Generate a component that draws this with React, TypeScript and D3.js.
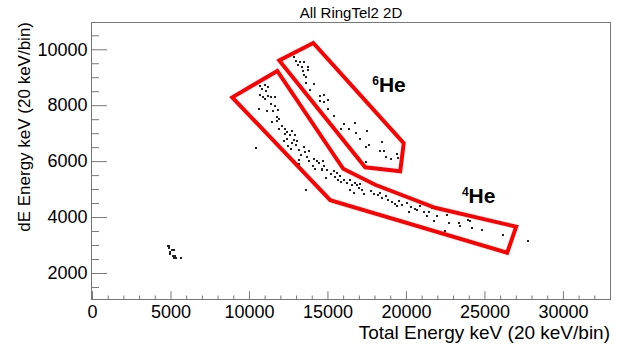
import { useEffect, useRef } from 'react';
import { axisBottom, axisLeft, format, line, range, scaleLinear, select } from 'd3';

type Pt = [number, number];

// axis ticks
const xTicks = [0, 5000, 10000, 15000, 20000, 25000, 30000];
const yTicks = [2000, 4000, 6000, 8000, 10000];

// graphical cuts (keV total, keV dE)
const he6Cut: Pt[] = [
  [14095, 10225], [11929, 9600], [17406, 5779], [19636, 5636], [19859, 6643],
];
const he4Cut: Pt[] = [
  [11802, 9225], [8936, 8279], [15177, 4601], [26450, 2726], [27024, 3654],
  [21865, 4333], [18043, 5154], [16005, 5726],
];

// events in the 6He band
const he6Events: Pt[] = [
  [12885, 9736], [13012, 9593], [13267, 9547], [13521, 9547], [13095, 9450], [13349, 9357],
  [13731, 9379], [13439, 9215], [13776, 9261], [13477, 9093], [13604, 9022], [13649, 8807],
  [14158, 8761], [13859, 8547], [14496, 8332], [14795, 8357], [15005, 8190], [14540, 8143],
  [14795, 8118], [15005, 7879], [15387, 7618], [16024, 7333], [16368, 7143], [15859, 7143],
  [16750, 7379], [16833, 7000], [17088, 6808], [17515, 7072], [17642, 6593], [17426, 6522],
  [18445, 6690], [18317, 6379], [18617, 6379], [18744, 6165], [19043, 6072], [19425, 6261],
  [19464, 6118], [17470, 5951],
];

// events in the 4He band
const he4Events: Pt[] = [
  [10700, 8690], [10993, 8736], [11209, 8665], [10827, 8572], [11082, 8522], [10700, 8379],
  [10865, 8307], [11209, 8332], [11375, 8286], [11037, 8236], [11630, 8286], [11420, 8047],
  [10611, 7879], [11674, 7975], [11165, 7786], [11547, 7808], [11846, 7833], [11757, 7572],
  [11885, 7522], [11802, 7450], [11464, 7404], [12101, 7261], [11885, 7143], [12311, 7143],
  [12439, 7047], [12738, 7072], [12267, 6975], [12611, 6929], [12904, 6929], [12439, 6808],
  [12865, 6761], [12228, 6715], [12738, 6665], [13076, 6715], [12483, 6547], [12993, 6572],
  [12693, 6451], [13203, 6404], [13502, 6501], [13585, 6333], [13840, 6379], [13330, 6215],
  [13668, 6143], [13158, 6047], [13795, 6022], [14139, 6093], [14305, 6001], [14477, 5929],
  [14687, 6001], [14050, 5833], [14222, 5736], [14649, 5736], [13158, 5904],
  [14751, 5833], [14668, 5665], [14967, 5690], [14923, 5404], [15222, 5522], [15387, 5644],
  [15604, 5572], [15477, 5429], [15770, 5476], [15687, 5308], [15859, 5261], [16024, 5333],
  [16241, 5215], [16407, 5308], [16579, 5144], [16750, 5215], [16878, 5144], [17088, 5165],
  [17005, 5022], [16451, 4976], [16661, 4858], [17215, 4976], [17343, 4808], [17770, 4929],
  [17980, 4833], [18190, 4786], [18362, 4858], [18489, 4665], [18699, 4737], [18871, 4594],
  [19126, 4547], [19298, 4476], [19553, 4572], [19425, 4379], [19763, 4429], [20062, 4501],
  [20317, 4358], [20190, 4190], [20572, 4287],
  [20699, 4262], [20909, 4379], [21120, 4165], [21438, 4165], [21655, 4322], [21757, 3844],
  [21973, 4022], [22610, 4083], [22712, 3787], [22502, 3487], [23349, 3787], [23457, 3690],
  [24094, 3844], [24202, 3608], [24839, 3547], [26215, 3369], [21336, 4022], [23967, 3904],
];

// low energy group and stray events
const lowCluster: Pt[] = [
  [4923, 2951], [4904, 2880], [5095, 2808], [4987, 2737], [5242, 2833], [4942, 2665],
  [5159, 2619], [5286, 2594], [5324, 2547], [5197, 2547], [5668, 2547], [4840, 2975],
];
const strayEvents: Pt[] = [[27807, 3130], [10464, 6458], [13649, 4951]];

export default function App() {
  const ref = useRef<SVGSVGElement>(null);

  useEffect(() => {
    const node = ref.current;
    if (!node) return;
    const svg = select(node);
    svg.selectAll('*').remove();

    const W = 619, H = 345;
    const left = 92, right = 610, top = 22, bottom = 299;
    const font = '"Liberation Sans", Arial, Helvetica, sans-serif';

    const x = scaleLinear().domain([0, 33000]).range([left, right]);
    const y = scaleLinear().domain([1070, 10975]).range([bottom, top]);

    svg.append('rect').attr('width', W).attr('height', H).attr('fill', 'white');

    // title
    svg.append('text')
      .attr('x', (left + right) / 2).attr('y', 18)
      .attr('text-anchor', 'middle')
      .attr('font-family', font).attr('font-size', 15)
      .text('All RingTel2 2D');

    // events
    const events = [...he6Events, ...he4Events, ...lowCluster, ...strayEvents];
    svg.append('g')
      .selectAll('rect')
      .data(events)
      .join('rect')
      .attr('x', (d) => Math.round(x(d[0])) - 1)
      .attr('y', (d) => Math.round(y(d[1])) - 1)
      .attr('width', 2)
      .attr('height', 2)
      .attr('fill', '#222');

    // cuts
    const path = line<Pt>().x((d) => x(d[0])).y((d) => y(d[1]));
    svg.append('g')
      .selectAll('path')
      .data([he6Cut, he4Cut])
      .join('path')
      .attr('d', (d) => path(d) + 'Z')
      .attr('fill', 'none')
      .attr('stroke', '#ff0000')
      .attr('stroke-width', 4)
      .attr('stroke-linejoin', 'miter');

    // frame
    svg.append('rect')
      .attr('x', left - 0.5).attr('y', top + 0.5)
      .attr('width', right - left + 1).attr('height', bottom - top)
      .attr('fill', 'none').attr('stroke', '#777');

    // y axis (ticks pointing inside)
    const yMinor = range(1500, 11000, 500).filter((v) => !yTicks.includes(v));
    svg.append('g')
      .attr('transform', `translate(${left - 0.5},0)`)
      .call(axisLeft(y).tickValues(yMinor).tickSize(-7.5).tickFormat(() => ''))
      .call((g) => g.select('.domain').remove());
    const gy = svg.append('g')
      .attr('transform', `translate(${left - 0.5},0)`)
      .call(axisLeft(y).tickValues(yTicks).tickSize(-15.5).tickPadding(4).tickFormat(format('d')));
    gy.select('.domain').remove();
    gy.selectAll('text').attr('font-family', font).attr('font-size', 18).attr('fill', '#000');

    // x axis
    const xMinor = range(1000, 33000, 1000).filter((v) => v % 5000 !== 0);
    svg.append('g')
      .attr('transform', `translate(0,${bottom + 0.5})`)
      .call(axisBottom(x).tickValues(xMinor).tickSize(-4).tickFormat(() => ''))
      .call((g) => g.select('.domain').remove());
    const gx = svg.append('g')
      .attr('transform', `translate(0,${bottom + 0.5})`)
      .call(axisBottom(x).tickValues(xTicks).tickSize(-8.3).tickPadding(6).tickFormat(format('d')));
    gx.select('.domain').remove();
    gx.selectAll('text').attr('font-family', font).attr('font-size', 18).attr('fill', '#000');
    svg.selectAll('.tick line').attr('stroke', '#777');

    // axis titles
    svg.append('text')
      .attr('x', right).attr('y', 339)
      .attr('text-anchor', 'end')
      .attr('font-family', font).attr('font-size', 19)
      .text('Total Energy keV (20 keV/bin)');
    svg.append('text')
      .attr('transform', `translate(30,${top}) rotate(-90)`)
      .attr('text-anchor', 'end')
      .attr('font-family', font).attr('font-size', 17)
      .text('dE Energy keV (20 keV/bin)');

    // particle labels
    const labels: { iso: string; pos: Pt }[] = [
      { iso: '6', pos: [17852, 8475] },
      { iso: '4', pos: [23565, 4511] },
    ];
    labels.forEach(({ iso, pos }) => {
      const t = svg.append('text')
        .attr('x', x(pos[0])).attr('y', y(pos[1]))
        .attr('font-family', font).attr('font-weight', 'bold').attr('font-size', 21);
      t.append('tspan').attr('font-size', 12).attr('dy', -7).text(iso);
      t.append('tspan').attr('dy', 7).text('He');
    });
  }, []);

  return (
    <svg
      ref={ref}
      width={619}
      height={345}
      style={{ position: 'absolute', left: 0, top: 0 }}
    />
  );
}
